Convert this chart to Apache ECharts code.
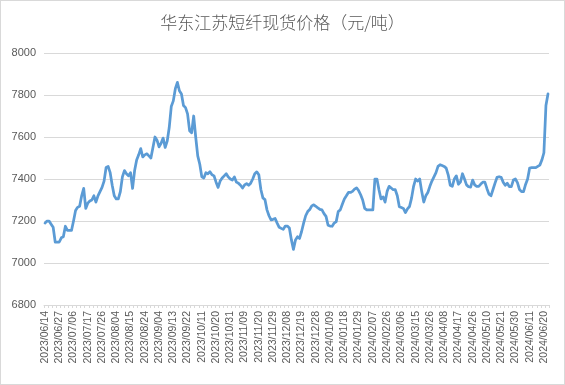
<!DOCTYPE html>
<html>
<head>
<meta charset="utf-8">
<script src="https://cdn.jsdelivr.net/npm/echarts@6/dist/echarts.min.js"></script>
<style>
html,body{margin:0;padding:0;background:#fff;}
#c{width:565px;height:385px;box-sizing:border-box;border:1px solid #d9d9d9;}
</style>
</head>
<body>
<div id="c"></div>
<script>
// Trading days (month -> day numbers)
const tradingMonths = [
 ["2023/06", [14,15,16,19,20,21,26,27,28,29,30]],
 ["2023/07", [3,4,5,6,7,10,11,12,13,14,17,18,19,20,21,24,25,26,27,28,31]],
 ["2023/08", [1,2,3,4,7,8,9,10,11,14,15,16,17,18,21,22,23,24,25,28,29,30,31]],
 ["2023/09", [1,4,5,6,7,8,11,12,13,14,15,18,19,20,21,22,25,26,27,28]],
 ["2023/10", [9,10,11,12,13,16,17,18,19,20,23,24,25,26,27,30,31]],
 ["2023/11", [1,2,3,6,7,8,9,10,13,14,15,16,17,20,21,22,23,24,27,28,29,30]],
 ["2023/12", [1,4,5,6,7,8,11,12,13,14,15,18,19,20,21,22,25,26,27,28,29]],
 ["2024/01", [2,3,4,5,8,9,10,11,12,15,16,17,18,19,22,23,24,25,26,29,30,31]],
 ["2024/02", [1,2,5,6,7,8,19,20,21,22,23,26,27,28,29]],
 ["2024/03", [1,4,5,6,7,8,11,12,13,14,15,18,19,20,21,22,25,26,27,28,29]],
 ["2024/04", [1,2,3,8,9,10,11,12,15,16,17,18,19,22,23,24,25,26,29,30]],
 ["2024/05", [6,7,8,9,10,13,14,15,16,17,20,21,22,23,24,27,28,29,30,31]],
 ["2024/06", [3,4,5,6,7,11,12,13,14,17,18,19,20,21,24]]
];

// Spot price values (元/吨), one per trading day
const prices = [
 7190,7200,7200,7185,7170,7100,7100,7100,7120,7125,
 7175,7155,7155,7155,7200,7250,7265,7270,7320,7355,
 7260,7285,7295,7300,7320,7290,7320,7340,7360,7390,
 7455,7460,7430,7370,7320,7305,7305,7340,7410,7440,
 7425,7415,7430,7355,7440,7490,7515,7545,7505,7515,
 7520,7510,7500,7550,7600,7585,7553,7570,7595,7550,
 7580,7645,7745,7772,7830,7860,7820,7805,7750,7740,
 7710,7630,7620,7700,7600,7510,7470,7410,7405,7430,
 7425,7435,7420,7415,7385,7360,7390,7405,7415,7425,
 7410,7400,7395,7410,7385,7380,7370,7357,7372,7378,
 7370,7380,7400,7425,7434,7420,7350,7310,7302,7253,
 7225,7205,7208,7212,7190,7170,7165,7160,7176,7176,
 7167,7110,7065,7110,7125,7117,7150,7190,7225,7245,
 7255,7272,7277,7270,7262,7255,7253,7235,7222,7180,
 7176,7175,7190,7197,7245,7253,7280,7305,7320,7336,
 7336,7341,7352,7358,7345,7325,7300,7260,7253,7253,
 7253,7253,7400,7400,7349,7305,7315,7290,7341,7365,
 7357,7349,7349,7320,7268,7264,7260,7240,7258,7269,
 7309,7365,7400,7390,7400,7340,7290,7320,7336,7365,
 7390,7410,7430,7460,7468,7464,7460,7452,7420,7370,
 7365,7400,7415,7375,7385,7425,7400,7372,7363,7361,
 7395,7372,7365,7365,7376,7385,7385,7355,7328,7320,
 7350,7380,7408,7411,7408,7385,7370,7380,7364,7364,
 7395,7400,7383,7350,7340,7340,7374,7400,7452,7454,
 7454,7454,7460,7466,7490,7525,7750,7805
];

const yTicks = {min: 6800, max: 8000, interval: 200};
const titleText = "华东江苏短纤现货价格（元/吨）";

const categories = [];
tradingMonths.forEach(([m, days]) => days.forEach(d => categories.push(m + "/" + String(d).padStart(2, "0"))));

const chart = echarts.init(document.getElementById("c"), null, {renderer: "canvas"});
chart.setOption({
  animation: false,
  backgroundColor: "#fff",
  title: {
    text: titleText,
    left: "center",
    top: 8,
    textStyle: {fontFamily: "Noto Sans CJK SC", fontSize: 17, fontWeight: 300, color: "#595959"}
  },
  grid: {left: 43, right: 15, top: 52, bottom: 79, containLabel: false},
  xAxis: {
    type: "category",
    data: categories,
    boundaryGap: true,
    axisLine: {lineStyle: {color: "#d9d9d9", width: 1}},
    axisTick: {show: true, interval: 1, length: 3, lineStyle: {color: "#d9d9d9"}},
    axisLabel: {
      interval: 6,
      rotate: 90,
      margin: 6,
      fontFamily: "Liberation Sans",
      fontSize: 10.5,
      color: "#595959"
    },
    splitLine: {show: false}
  },
  yAxis: {
    type: "value",
    min: yTicks.min,
    max: yTicks.max,
    interval: yTicks.interval,
    axisLine: {show: false},
    axisTick: {show: false},
    axisLabel: {fontFamily: "Liberation Sans", fontSize: 11, color: "#595959", margin: 8,
                formatter: v => String(v)},
    splitLine: {lineStyle: {color: "#d9d9d9", width: 1}}
  },
  series: [{
    type: "line",
    data: prices,
    showSymbol: false,
    symbol: "none",
    lineStyle: {color: "#5b9bd5", width: 2.75, join: "round", cap: "round"},
    itemStyle: {color: "#5b9bd5"}
  }]
});
</script>
</body>
</html>
